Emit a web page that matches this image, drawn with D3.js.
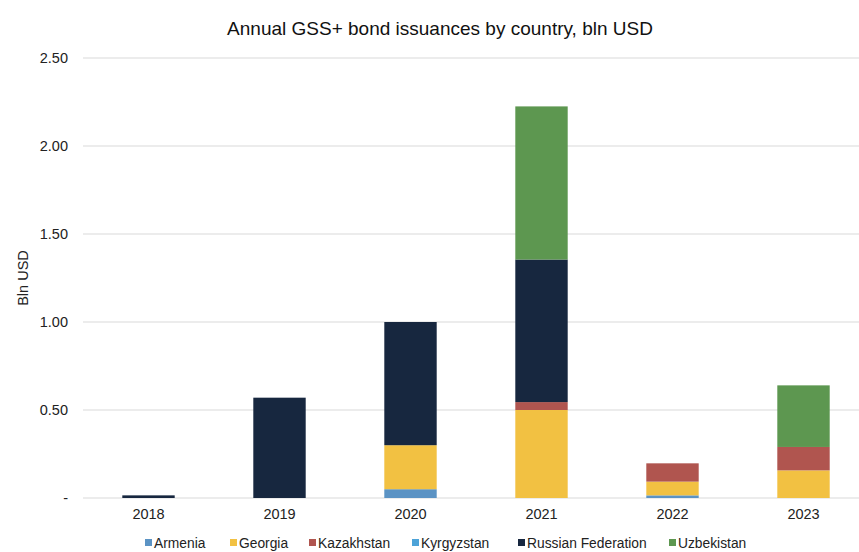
<!DOCTYPE html>
<html>
<head>
<meta charset="utf-8">
<script src="https://cdn.jsdelivr.net/npm/d3@7"></script>
<style>
  html, body { margin: 0; padding: 0; background: #fff; }
  svg { display: block; font-family: "Liberation Sans", Arial, Helvetica, sans-serif; }
</style>
</head>
<body>
<svg id="chart" width="859" height="552"></svg>
<script>
// Annual GSS+ bond issuances, bln USD
const years = ["2018", "2019", "2020", "2021", "2022", "2023"];
const countries = ["Armenia", "Georgia", "Kazakhstan", "Kyrgyzstan", "Russian Federation", "Uzbekistan"];
const colors = ["#5b93c4", "#f2c142", "#b0554f", "#4da3d8", "#17273f", "#5d9750"];

const armenia    = [0,     0,    0.05, 0,     0.015, 0];
const georgia    = [0,     0,    0.25, 0.50,  0.078, 0.157];
const kazakhstan = [0,     0,    0,    0.045, 0.104, 0.133];
const kyrgyzstan = [0,     0,    0,    0,     0,     0];
const russia     = [0.015, 0.57, 0.70, 0.81,  0,     0];
const uzbekistan = [0,     0,    0,    0.87,  0,     0.35];

const yTicks = [0, 0.5, 1.0, 1.5, 2.0, 2.5];

const seriesValues = [armenia, georgia, kazakhstan, kyrgyzstan, russia, uzbekistan];
const rows = years.map((y, i) => {
  const r = { year: y };
  countries.forEach((c, k) => { r[c] = seriesValues[k][i]; });
  return r;
});

const svg = d3.select("#chart");
const margin = { left: 83, right: -10, top: 58, bottom: 54 };
const W = 859, H = 552;

const x = d3.scaleBand().domain(years).range([margin.left, W - margin.right]).paddingInner(0.6).paddingOuter(0.3);
const y = d3.scaleLinear().domain([0, 2.5]).range([H - margin.bottom, margin.top]);

// Gridlines
svg.append("g")
  .selectAll("line")
  .data(yTicks)
  .join("line")
  .attr("x1", margin.left)
  .attr("x2", W)
  .attr("y1", d => y(d))
  .attr("y2", d => y(d))
  .attr("stroke", "#d9d9d9")
  .attr("stroke-width", 1);

// Stacked bars
const stack = d3.stack().keys(countries);
const layers = stack(rows);
svg.append("g")
  .selectAll("g")
  .data(layers)
  .join("g")
  .attr("fill", (d, i) => colors[i])
  .selectAll("rect")
  .data(d => d)
  .join("rect")
  .attr("x", d => x(d.data.year))
  .attr("width", x.bandwidth())
  .attr("y", d => y(d[1]))
  .attr("height", d => Math.max(0, y(d[0]) - y(d[1])));

// Y axis tick labels
const yAxis = d3.axisLeft(y)
  .tickValues(yTicks)
  .tickSize(0)
  .tickPadding(0)
  .tickFormat(d => d === 0 ? "-" : d3.format(".2f")(d));
const yG = svg.append("g").attr("transform", `translate(${margin.left - 15},0)`).call(yAxis);
yG.select(".domain").remove();
yG.selectAll("text").attr("font-size", 14.5).attr("fill", "#222").attr("font-family", "Liberation Sans, Arial, sans-serif");

// X axis labels
const xAxis = d3.axisBottom(x).tickSize(0).tickPadding(11);
const xG = svg.append("g").attr("transform", `translate(0,${y(0)})`).call(xAxis);
xG.select(".domain").remove();
xG.selectAll("text").attr("font-size", 14.5).attr("fill", "#222").attr("font-family", "Liberation Sans, Arial, sans-serif");

// Title
svg.append("text")
  .attr("x", 440)
  .attr("y", 35)
  .attr("text-anchor", "middle")
  .attr("font-size", 19)
  .attr("fill", "#111")
  .text("Annual GSS+ bond issuances by country, bln USD");

// Y axis title
svg.append("text")
  .attr("transform", `translate(28,${278}) rotate(-90)`)
  .attr("text-anchor", "middle")
  .attr("font-size", 14.5)
  .attr("fill", "#222")
  .text("Bln USD");

// Legend
const legendX = [145, 230, 309, 412, 518, 669];
const legend = svg.append("g").selectAll("g")
  .data(countries)
  .join("g")
  .attr("transform", (d, i) => `translate(${legendX[i]},548)`);
legend.append("rect")
  .attr("x", 0).attr("y", -9)
  .attr("width", 7).attr("height", 7)
  .attr("fill", (d, i) => colors[i]);
legend.append("text")
  .attr("x", 9)
  .attr("y", 0)
  .attr("font-size", 13.8)
  .attr("fill", "#222")
  .text(d => d);
</script>
</body>
</html>
